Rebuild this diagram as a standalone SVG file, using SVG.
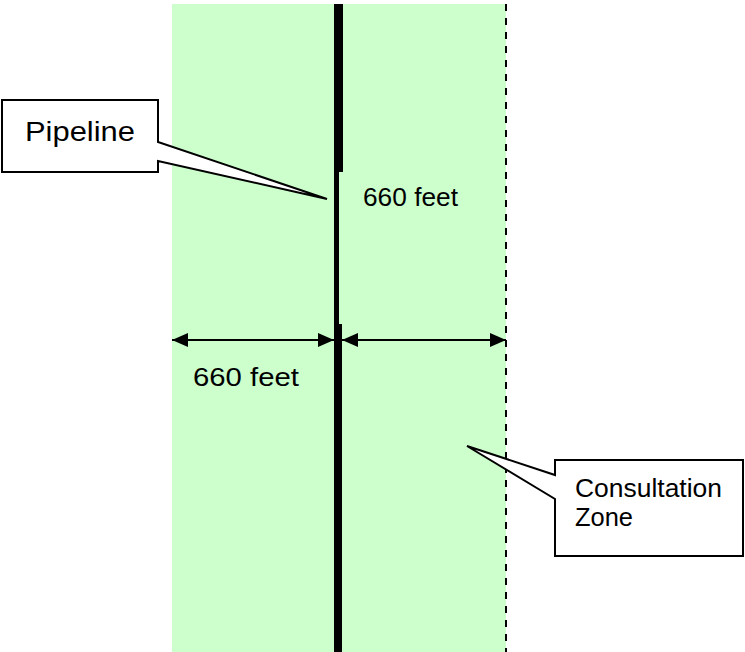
<svg xmlns="http://www.w3.org/2000/svg" width="745" height="652" viewBox="0 0 745 652">
<defs>
<style>
.lbl{font-family:"Liberation Sans",Arial,sans-serif;fill:#000;font-size:26px;}
.co{fill:#fff;stroke:#000;stroke-width:2;stroke-linejoin:miter;}
.dim{stroke:#000;stroke-width:2;fill:none;}
</style>
<marker id="ah" viewBox="0 0 16 14" refX="16" refY="7" markerWidth="16" markerHeight="14" markerUnits="userSpaceOnUse" orient="auto-start-reverse">
<path d="M0,0 L16,7 L0,14 Z" fill="#000"/>
</marker>
</defs>
<rect id="zone" x="172" y="4" width="334" height="648" fill="#CCFFCC"/>
<line id="zone-edge" x1="506" y1="4" x2="506" y2="652" stroke="#000" stroke-width="2" stroke-dasharray="7,7"/>
<g id="pipeline">
<rect x="334" y="4" width="9" height="168" fill="#000"/>
<rect x="334" y="172" width="5" height="152" fill="#000"/>
<rect x="334" y="324" width="8" height="328" fill="#000"/>
</g>
<g id="connectors">
<line class="dim" x1="172" y1="340" x2="334" y2="340" marker-start="url(#ah)" marker-end="url(#ah)"/>
<line class="dim" x1="342" y1="340" x2="506" y2="340" marker-start="url(#ah)" marker-end="url(#ah)"/>
</g>
<g id="label-upper">
<text class="lbl" x="363" y="206" textLength="95" lengthAdjust="spacingAndGlyphs">660 feet</text>
</g>
<g id="label-lower">
<text class="lbl" x="193" y="386" textLength="106" lengthAdjust="spacingAndGlyphs">660 feet</text>
</g>
<g id="callout-pipeline">
<path class="co" d="M2,100 L158,100 L158,142 L327,199 L158,161 L158,172 L2,172 Z"/>
<text class="lbl" x="25" y="141" style="font-size:27px" textLength="110" lengthAdjust="spacingAndGlyphs">Pipeline</text>
</g>
<g id="callout-zone">
<path class="co" d="M555,460 L743,460 L743,556 L555,556 L555,499 L467,446 L555,475 Z"/>
<text class="lbl" x="575" y="497" textLength="147" lengthAdjust="spacingAndGlyphs">Consultation</text>
<text class="lbl" x="575" y="526" textLength="58" lengthAdjust="spacingAndGlyphs">Zone</text>
</g>
</svg>
